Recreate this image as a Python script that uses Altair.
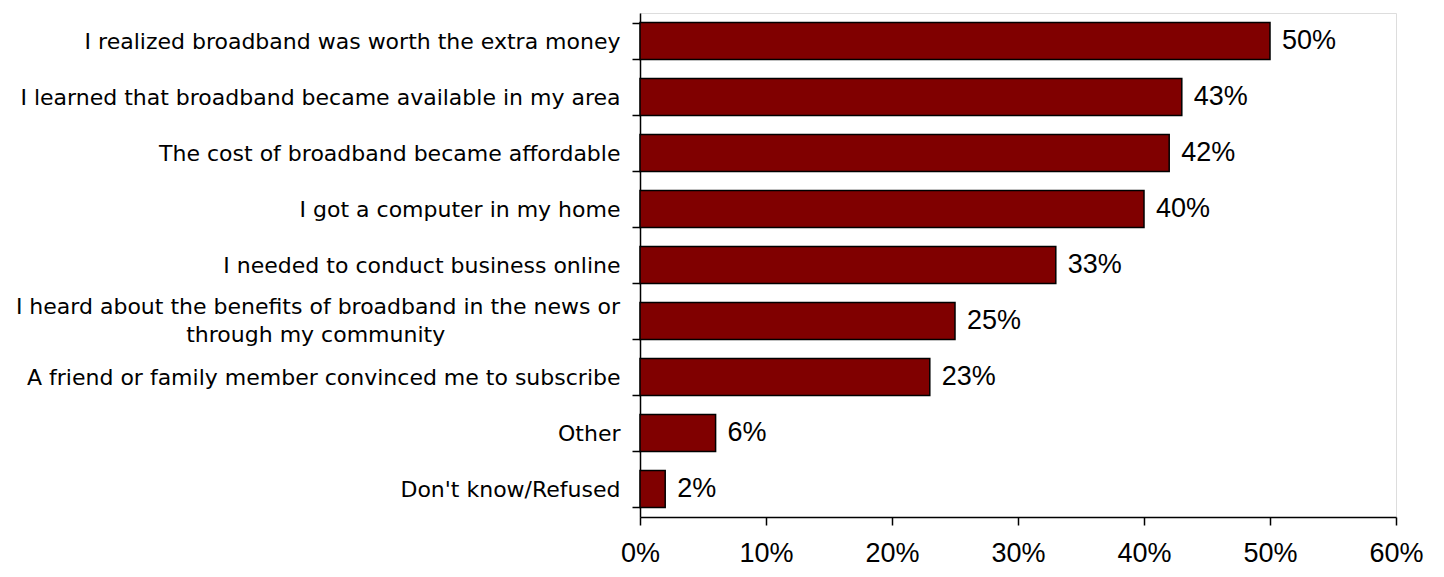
import altair as alt
import pandas as pd

NBSP = "\u00a0"
ZWSP = "\u200b"

categories = [
    "I realized broadband was worth the extra money",
    "I learned that broadband became available in my area",
    "The cost of broadband became affordable",
    "I got a computer in my home",
    "I needed to conduct business online",
    "I heard about the benefits of broadband in the news or|through my community" + NBSP * 25 + ZWSP,
    "A friend or family member convinced me to subscribe",
    "Other",
    "Don't know/Refused",
]
values = [50, 43, 42, 40, 33, 25, 23, 6, 2]
x_ticks = [0, 10, 20, 30, 40, 50, 60]

df = pd.DataFrame({"cat": categories, "val": values})
df["lbl"] = df["val"].astype(str) + "%"
df_multi = df[df["cat"].str.contains("|", regex=False)].copy()

LABEL_FONT = "DejaVu Sans"
NUM_FONT = "Liberation Sans"

y_enc = alt.Y(
    "cat:N",
    sort=categories,
    scale=alt.Scale(paddingInner=0.34, paddingOuter=0.17),
    axis=alt.Axis(
        title=None,
        labelExpr="indexof(datum.label + '', '|') >= 0 ? '' : datum.label",
        labelFont=LABEL_FONT,
        labelFontSize=22,
        labelColor="black",
        labelPadding=12,
        labelLimit=700,
        tickBand="extent",
        tickSize=8,
        tickColor="black",
        tickWidth=1.5,
        domainColor="black",
        domainWidth=1.5,
        grid=False,
    ),
)

x_enc = alt.X(
    "val:Q",
    scale=alt.Scale(domain=[0, 60], nice=False, zero=True),
    axis=alt.Axis(
        title=None,
        values=x_ticks,
        labelExpr="datum.value + '%'",
        labelFont=NUM_FONT,
        labelFontSize=27,
        labelColor="black",
        labelPadding=15,
        labelAlign="center",
        tickSize=8,
        tickColor="black",
        tickWidth=1.5,
        domainColor="black",
        domainWidth=1.5,
        grid=False,
    ),
)

bars = alt.Chart(df).mark_bar(
    color="#800000", stroke="black", strokeWidth=1.5
).encode(x=x_enc, y=y_enc)

texts = alt.Chart(df).mark_text(
    align="left", baseline="middle", dx=12, font=NUM_FONT, fontSize=27, color="black"
).encode(
    x=alt.X("val:Q"),
    y=alt.Y("cat:N", sort=categories),
    text="lbl:N",
)

multi_label = alt.Chart(df_multi).mark_text(
    align="right",
    baseline="middle",
    lineBreak="|",
    lineHeight=28,
    dx=-20,
    dy=-14,
    font=LABEL_FONT,
    fontSize=22,
    color="black",
).encode(
    x=alt.X("zero:Q"),
    y=alt.Y("cat:N", sort=categories),
    text="cat:N",
).transform_calculate(zero="0")

chart = (
    alt.layer(bars, texts, multi_label)
    .properties(
        width=756,
        height=504,
        autosize=alt.AutoSizeParams(type="none"),
        padding={"left": 632, "top": 5, "right": 40, "bottom": 52},
    )
    .configure_view(strokeWidth=0, stroke="transparent")
    .configure(background="white")
)

chart.save("out.html", embed_options={"renderer": "svg", "actions": False})
